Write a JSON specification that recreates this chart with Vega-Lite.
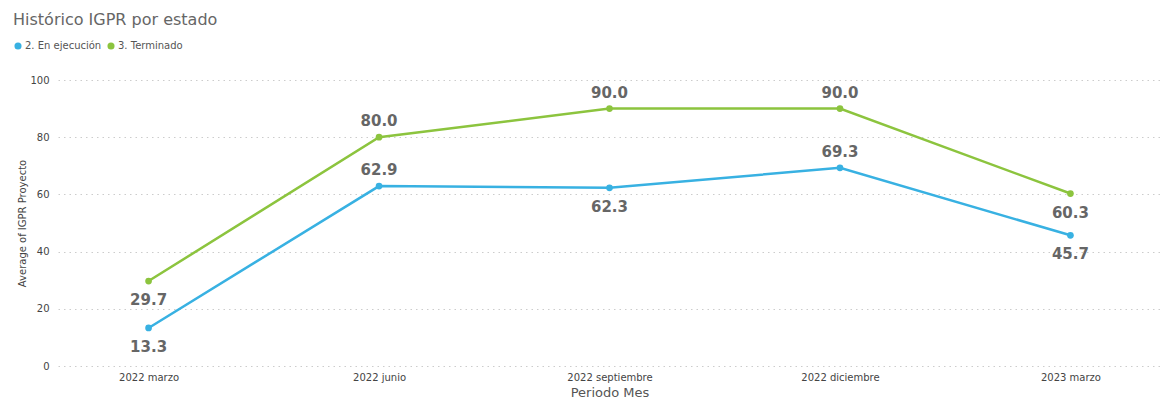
{
  "$schema": "https://vega.github.io/schema/vega-lite/v6.json",
  "width": 1103,
  "height": 286,
  "autosize": {"type": "none"},
  "padding": {"left": 58, "top": 80, "right": 0, "bottom": 36},
  "background": "white",
  "title": {
    "text": "Histórico IGPR por estado",
    "anchor": "start",
    "frame": "group",
    "baseline": "alphabetic",
    "dx": -45,
    "offset": 0,
    "font": "DejaVu Sans",
    "fontSize": 16,
    "fontWeight": "normal",
    "color": "#666666"
  },
  "config": {
    "view": {"stroke": null},
    "font": "DejaVu Sans"
  },
  "data": {
    "values": [
      {"mes": "2022 marzo", "estado": "2. En ejecución", "valor": 13.3},
      {"mes": "2022 junio", "estado": "2. En ejecución", "valor": 62.9},
      {"mes": "2022 septiembre", "estado": "2. En ejecución", "valor": 62.3},
      {"mes": "2022 diciembre", "estado": "2. En ejecución", "valor": 69.3},
      {"mes": "2023 marzo", "estado": "2. En ejecución", "valor": 45.7},
      {"mes": "2022 marzo", "estado": "3. Terminado", "valor": 29.7},
      {"mes": "2022 junio", "estado": "3. Terminado", "valor": 80.0},
      {"mes": "2022 septiembre", "estado": "3. Terminado", "valor": 90.0},
      {"mes": "2022 diciembre", "estado": "3. Terminado", "valor": 90.0},
      {"mes": "2023 marzo", "estado": "3. Terminado", "valor": 60.3}
    ]
  },
  "encoding": {
    "x": {
      "field": "mes",
      "type": "ordinal",
      "sort": ["2022 marzo", "2022 junio", "2022 septiembre", "2022 diciembre", "2023 marzo"],
      "scale": {"type": "point", "padding": 0.393},
      "axis": {
        "title": "Periodo Mes",
        "titleFont": "DejaVu Sans",
        "titleFontSize": 13,
        "titleFontWeight": "normal",
        "titleColor": "#555555",
        "titlePadding": 4,
        "labelAngle": 0,
        "labelFontSize": 10,
        "labelColor": "#444444",
        "labelPadding": 6,
        "ticks": false,
        "domain": false,
        "grid": false
      }
    },
    "y": {
      "field": "valor",
      "type": "quantitative",
      "scale": {"domain": [0, 100]},
      "axis": {
        "title": "Average of IGPR Proyecto",
        "titleFontSize": 10,
        "titleFontWeight": "normal",
        "titleColor": "#444444",
        "titleX": -36,
        "titleBaseline": "middle",
        "values": [0, 20, 40, 60, 80, 100],
        "labelFontSize": 10,
        "labelColor": "#444444",
        "labelPadding": 9,
        "ticks": false,
        "domain": false,
        "grid": true,
        "gridColor": "#cccccc",
        "gridDash": [1.5, 4],
        "gridWidth": 1
      }
    },
    "color": {
      "field": "estado",
      "type": "nominal",
      "scale": {"domain": ["2. En ejecución", "3. Terminado"], "range": ["#38B1E2", "#8CC43E"]},
      "legend": {
        "title": null,
        "orient": "none",
        "direction": "horizontal",
        "legendX": -45,
        "legendY": -39,
        "symbolType": "circle",
        "symbolSize": 50,
        "symbolOpacity": 1,
        "symbolStrokeWidth": 0,
        "labelFontSize": 10,
        "labelColor": "#555555",
        "labelOffset": 2,
        "columnPadding": 4
      }
    }
  },
  "layer": [
    {"mark": {"type": "line", "strokeWidth": 2.5}},
    {"mark": {"type": "point", "filled": true, "size": 45, "opacity": 1}},
    {
      "transform": [{"filter": "(datum.estado == '3. Terminado' && datum.mes != '2022 marzo' && datum.mes != '2023 marzo') || (datum.estado == '2. En ejecución' && (datum.mes == '2022 junio' || datum.mes == '2022 diciembre'))"}],
      "mark": {"type": "text", "fontSize": 15, "fontWeight": "bold", "color": "#666666", "baseline": "alphabetic", "dy": -11},
      "encoding": {"text": {"field": "valor", "type": "quantitative", "format": ".1f"}, "color": {"value": "#666666"}}
    },
    {
      "transform": [{"filter": "!((datum.estado == '3. Terminado' && datum.mes != '2022 marzo' && datum.mes != '2023 marzo') || (datum.estado == '2. En ejecución' && (datum.mes == '2022 junio' || datum.mes == '2022 diciembre')))"}],
      "mark": {"type": "text", "fontSize": 15, "fontWeight": "bold", "color": "#666666", "baseline": "alphabetic", "dy": 24},
      "encoding": {"text": {"field": "valor", "type": "quantitative", "format": ".1f"}, "color": {"value": "#666666"}}
    }
  ]
}
